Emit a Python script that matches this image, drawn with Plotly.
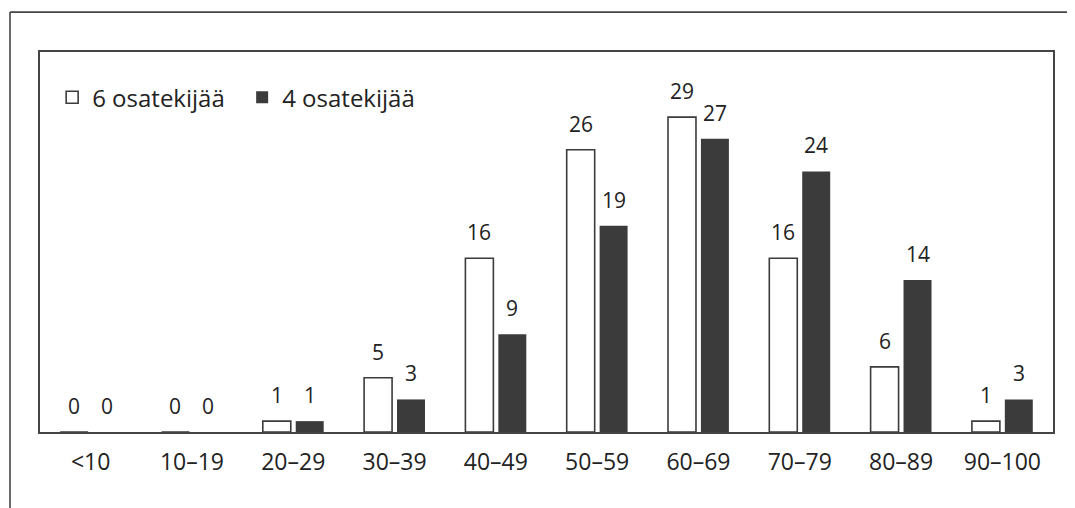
import plotly.graph_objects as go

categories = ["<10", "10–19", "20–29", "30–39", "40–49", "50–59", "60–69", "70–79", "80–89", "90–100"]
six_factors = [0, 0, 1, 5, 16, 26, 29, 16, 6, 1]
four_factors = [0, 0, 1, 3, 9, 19, 27, 24, 14, 3]
series_names = ["6 osatekijää", "4 osatekijää"]

FONT = "Open Sans"
TXT = "#222222"
DARK = "#3b3b3b"

fig = go.Figure()
fig.add_trace(go.Bar(x=categories, y=six_factors, name=series_names[0],
                     marker=dict(color="white", line=dict(color=DARK, width=1.6))))
fig.add_trace(go.Bar(x=categories, y=four_factors, name=series_names[1],
                     marker=dict(color=DARK, line=dict(color=DARK, width=0))))

annotations = []
for cat, v in zip(categories, six_factors):
    annotations.append(dict(x=cat, y=v, xref="x", yref="y", text=str(v), showarrow=False,
                            xshift=-16.5, yshift=26, font=dict(family=FONT, size=21, color=TXT)))
for cat, v in zip(categories, four_factors):
    annotations.append(dict(x=cat, y=v, xref="x", yref="y", text=str(v), showarrow=False,
                            xshift=16.5, yshift=26, font=dict(family=FONT, size=21, color=TXT)))

fig.update_layout(
    width=1075, height=508,
    margin=dict(l=32, r=30, t=44, b=84),
    paper_bgcolor="white", plot_bgcolor="white",
    barmode="group", bargap=0.35, bargroupgap=0.15,
    font=dict(family=FONT, size=21, color=TXT),
    annotations=annotations,
    showlegend=True,
    legend=dict(orientation="h", x=0.012, y=0.88, xanchor="left", yanchor="middle",
                font=dict(family=FONT, size=24, color=TXT), entrywidth=145,
                bgcolor="rgba(0,0,0,0)", traceorder="normal"),
    shapes=[
        dict(type="line", xref="paper", yref="paper", x0=-0.0296, x1=1.05, y0=1.105, y1=1.105,
             line=dict(color="#444", width=1.6)),
        dict(type="line", xref="paper", yref="paper", x0=-0.0296, x1=-0.0296, y0=1.105, y1=-0.3,
             line=dict(color="#444", width=1.6)),
    ],
)
fig.update_xaxes(showline=True, mirror=True, linecolor="#444", linewidth=1.6,
                 ticks="outside", ticklen=9, tickcolor="rgba(0,0,0,0)",
                 tickfont=dict(family=FONT, size=23, color=TXT), showgrid=False)
fig.update_yaxes(range=[0, 35], showline=True, mirror=True, linecolor="#444", linewidth=1.6,
                 showticklabels=False, showgrid=False, zeroline=False, ticks="")

fig.write_html("out.html")
